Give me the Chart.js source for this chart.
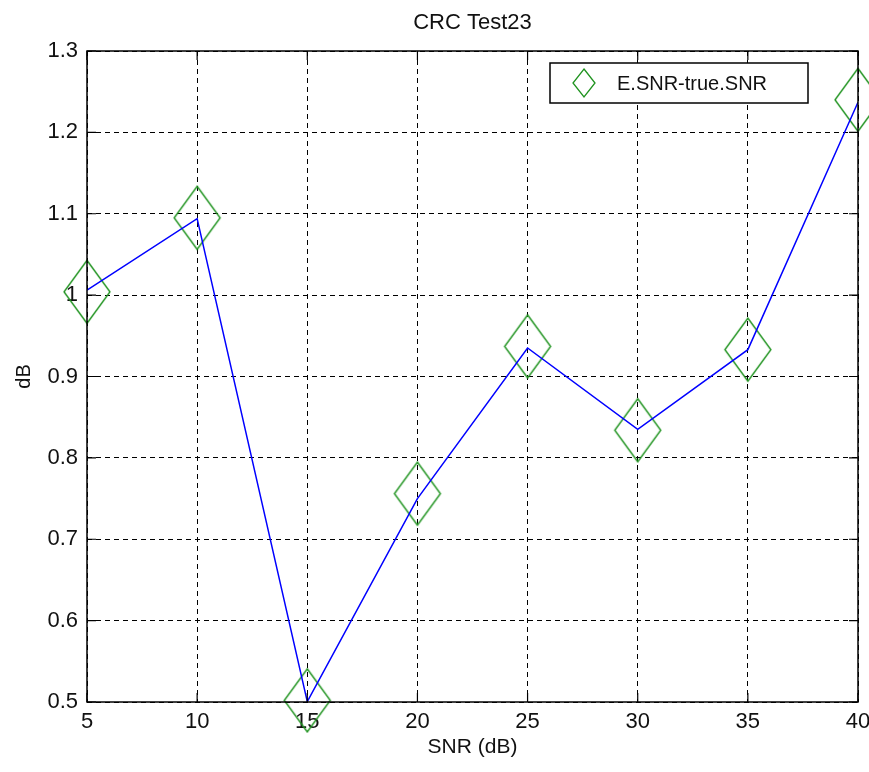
<!DOCTYPE html>
<html>
<head>
<meta charset="utf-8">
<title>CRC Test23</title>
<script src="https://cdn.jsdelivr.net/npm/chart.js@4.4.1/dist/chart.umd.min.js"></script>
<style>
  html, body { margin: 0; padding: 0; background: #fff; }
  #chart { display: block; }
</style>
</head>
<body>
<canvas id="chart" width="869" height="772"></canvas>
<script>
// SNR points (dB)
const snr = [5, 10, 15, 20, 25, 30, 35, 40];
// blue trace
const lineValues = [1.006, 1.094, 0.5005, 0.750, 0.935, 0.835, 0.933, 1.237];
// green diamond markers
const markerValues = [1.004, 1.095, 0.502, 0.756, 0.937, 0.834, 0.933, 1.240];
const markerLabel = 'E.SNR-true.SNR';

const xTicks = [5, 10, 15, 20, 25, 30, 35, 40];
const yTicks = [0.5, 0.6, 0.7, 0.8, 0.9, 1.0, 1.1, 1.2, 1.3];

const green = '#1f931f';
const blue = '#0000ff';

// tall open diamond used as the marker image
function makeDiamond(w, h, lw) {
    const c = document.createElement('canvas');
    c.width = w + 4;
    c.height = h + 4;
    const g = c.getContext('2d');
    g.strokeStyle = green;
    g.lineWidth = lw;
    g.beginPath();
    g.moveTo(c.width / 2, 2);
    g.lineTo(c.width - 2, c.height / 2);
    g.lineTo(c.width / 2, c.height - 2);
    g.lineTo(2, c.height / 2);
    g.closePath();
    g.stroke();
    return c;
}
const diamond = makeDiamond(46, 63, 1.4);
const legendDiamond = makeDiamond(22, 28, 1.3);

Chart.defaults.font.family = '"Liberation Sans", Arial, sans-serif';
Chart.defaults.font.size = 22;
Chart.defaults.color = '#111';

// box, inward tick marks and the legend, MATLAB style
const axesBox = {
    id: 'axesBox',
    afterDatasetsDraw(chart) {
        const { ctx, chartArea: a, scales } = chart;
        ctx.save();
        ctx.strokeStyle = '#000';
        ctx.lineWidth = 1.5;
        ctx.setLineDash([]);
        ctx.strokeRect(a.left, a.top, a.right - a.left, a.bottom - a.top);

        const len = 9;
        ctx.beginPath();
        xTicks.forEach(v => {
            const x = scales.x.getPixelForValue(v);
            ctx.moveTo(x, a.bottom); ctx.lineTo(x, a.bottom - len);
            ctx.moveTo(x, a.top); ctx.lineTo(x, a.top + len);
        });
        yTicks.forEach(v => {
            const y = scales.y.getPixelForValue(v);
            ctx.moveTo(a.left, y); ctx.lineTo(a.left + len, y);
            ctx.moveTo(a.right, y); ctx.lineTo(a.right - len, y);
        });
        ctx.lineWidth = 1.2;
        ctx.stroke();

        // legend box in the upper right
        const bx = 550, by = 63, bw = 258, bh = 40;
        ctx.fillStyle = '#fff';
        ctx.fillRect(bx, by, bw, bh);
        ctx.lineWidth = 1.5;
        ctx.strokeStyle = '#000';
        ctx.strokeRect(bx, by, bw, bh);
        ctx.drawImage(legendDiamond, 584 - legendDiamond.width / 2, by + bh / 2 - legendDiamond.height / 2);
        ctx.fillStyle = '#111';
        ctx.font = '20px "Liberation Sans", Arial, sans-serif';
        ctx.textBaseline = 'middle';
        ctx.textAlign = 'left';
        ctx.fillText(chart.data.datasets[1].label, 617, by + bh / 2 + 1);
        ctx.restore();
    }
};

new Chart(document.getElementById('chart'), {
    type: 'line',
    data: {
        datasets: [
            {
                label: 'trace',
                data: snr.map((x, i) => ({ x: x, y: lineValues[i] })),
                borderColor: blue,
                borderWidth: 1.5,
                pointRadius: 0,
                tension: 0,
                fill: false
            },
            {
                label: markerLabel,
                data: snr.map((x, i) => ({ x: x, y: markerValues[i] })),
                showLine: false,
                pointStyle: diamond,
                pointRadius: 30,
                borderColor: green,
                backgroundColor: 'transparent',
                clip: false
            }
        ]
    },
    options: {
        responsive: false,
        animation: false,
        layout: {
            autoPadding: false,
            padding: { left: 0, right: 11, top: 0, bottom: 0 }
        },
        plugins: {
            legend: { display: false },
            tooltip: { enabled: false },
            title: {
                display: true,
                fullSize: false,
                text: 'CRC Test23',
                color: '#111',
                font: { size: 22, weight: 'normal' },
                padding: { top: 10, bottom: 14.6 }
            }
        },
        scales: {
            x: {
                type: 'linear',
                min: 5,
                max: 40,
                afterBuildTicks: s => { s.ticks = xTicks.map(v => ({ value: v })); },
                afterFit: s => {
                    s.height = 70;
                    // let the "5" and "40" labels hang past the plot edges
                    s.paddingLeft = 0;
                    s.paddingRight = 0;
                },
                ticks: { padding: 7, maxRotation: 0, color: '#111' },
                grid: { color: '#000', lineWidth: 1, drawTicks: false },
                border: { display: false, dash: [5, 4] },
                title: {
                    display: true,
                    text: 'SNR (dB)',
                    color: '#111',
                    font: { size: 21 },
                    padding: { top: 0, bottom: 12 }
                }
            },
            y: {
                min: 0.5,
                max: 1.3,
                afterBuildTicks: s => { s.ticks = yTicks.map(v => ({ value: v })); },
                afterFit: s => { s.width = 87; },
                ticks: {
                    padding: 9,
                    color: '#111',
                    callback: v => String(+v.toFixed(1))
                },
                grid: { color: '#000', lineWidth: 1, drawTicks: false },
                border: { display: false, dash: [5, 4] },
                title: {
                    display: true,
                    text: 'dB',
                    color: '#111',
                    font: { size: 20 },
                    padding: { top: 12, bottom: 0 }
                }
            }
        }
    },
    plugins: [axesBox]
});
</script>
</body>
</html>
